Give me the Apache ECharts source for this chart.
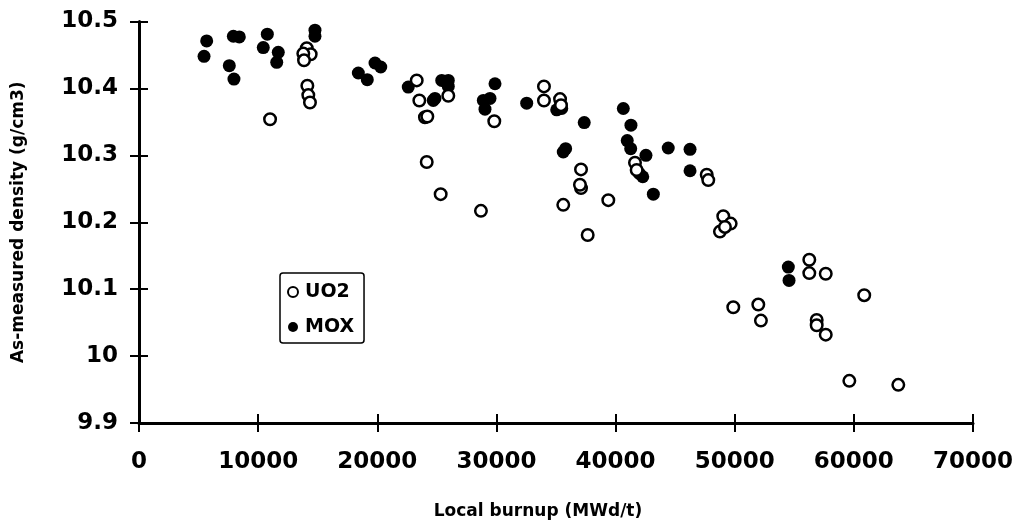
<!DOCTYPE html>
<html>
<head>
<meta charset="utf-8">
<script src="https://cdn.jsdelivr.net/npm/echarts@6/dist/echarts.min.js"></script>
<style>html,body{margin:0;padding:0;background:#fff}#c{width:1035px;height:530px}</style>
</head>
<body>
<div id="c"></div>
<script>
// Local burnup (MWd/t) and as-measured density (g/cm3)
const moxX = [5680,5460,7920,8420,7580,7970,10770,10430,11690,11560,14770,14770,18410,19160,19810,20290,22600,25410,25960,25960,24840,24700,29880,28900,29460,29040,32540,35060,35480,37370,35810,35610,40650,41290,40980,41270,42550,42280,41990,43170,44420,46250,46250,54500,54560];
const moxY = [10.471,10.448,10.478,10.477,10.434,10.414,10.481,10.461,10.454,10.439,10.487,10.478,10.423,10.413,10.438,10.432,10.402,10.412,10.412,10.403,10.385,10.382,10.407,10.382,10.385,10.369,10.378,10.368,10.370,10.349,10.310,10.305,10.370,10.345,10.322,10.310,10.300,10.268,10.273,10.242,10.311,10.309,10.277,10.133,10.113];
const uo2X = [11000,14080,14410,13790,13850,14130,14210,14350,23310,23530,24000,24200,24150,25320,25960,29820,28700,33990,33990,35340,35420,37100,37100,37010,35610,39390,37660,41630,41770,47650,47780,49040,49660,48760,49180,49880,51980,52200,56260,56260,57640,60870,56880,56880,57640,59620,63730];
const uo2Y = [10.354,10.460,10.451,10.452,10.442,10.404,10.390,10.379,10.412,10.382,10.357,10.358,10.290,10.242,10.389,10.351,10.217,10.403,10.382,10.384,10.375,10.279,10.251,10.256,10.226,10.233,10.181,10.289,10.278,10.271,10.263,10.209,10.198,10.186,10.193,10.073,10.077,10.053,10.144,10.124,10.123,10.091,10.054,10.046,10.032,9.963,9.957];
const seriesNames = ['UO2', 'MOX'];
const xTicks = [0, 70000, 10000];   // min, max, interval
const yTicks = [9.9, 10.5, 0.1];    // min, max, interval
const xTitle = 'Local burnup (MWd/t)';
const yTitle = 'As-measured density (g/cm3)';

const FONT = 'DejaVu Sans';
const gridBox = {left: 139, right: 62, top: 21.5, bottom: 107, containLabel: false};

const zip = (a, b) => a.map((v, i) => [v, b[i]]);
const tickStyle = {color: '#000', width: 2};

const chart = echarts.init(document.getElementById('c'), null, {renderer: 'canvas'});
const baseX = {type: 'value', min: xTicks[0], max: xTicks[1], interval: xTicks[2], splitLine: {show: false}};
const baseY = {type: 'value', min: yTicks[0], max: yTicks[1], interval: yTicks[2], splitLine: {show: false}};
chart.setOption({
  animation: false,
  backgroundColor: '#fff',
  grid: [Object.assign({}, gridBox), Object.assign({}, gridBox)],
  legend: {
    orient: 'vertical', left: 280, top: 273,
    data: seriesNames,
    itemWidth: 14, itemHeight: 10, itemGap: 13,
    padding: [8, 10, 5, 7],
    borderColor: '#000', borderWidth: 1.5, borderRadius: 3,
    selectedMode: false,
    textStyle: {fontFamily: FONT, fontWeight: 'bold', fontSize: 19, color: '#000', lineHeight: 22}
  },
  xAxis: [
    Object.assign({}, baseX, {
      gridIndex: 0, position: 'bottom',
      axisLine: {show: true, lineStyle: {color: '#000', width: 3}},
      axisTick: {show: true, inside: false, length: 9, lineStyle: tickStyle},
      axisLabel: {show: true, margin: 28, color: '#000', fontFamily: FONT, fontWeight: 'bold', fontSize: 23,
                  formatter: v => String(v)},
      name: xTitle, nameLocation: 'middle', nameGap: 80,
      nameTextStyle: {fontFamily: FONT, fontWeight: 'bold', fontSize: 17, color: '#000', padding: [0, 36, 0, 0]}
    }),
    Object.assign({}, baseX, {
      gridIndex: 1, position: 'bottom',
      axisLine: {show: false},
      axisTick: {show: true, inside: true, length: 9, lineStyle: tickStyle},
      axisLabel: {show: false}
    })
  ],
  yAxis: [
    Object.assign({}, baseY, {
      gridIndex: 0, position: 'left',
      axisLine: {show: true, lineStyle: {color: '#000', width: 3}},
      axisTick: {show: true, inside: false, length: 9, lineStyle: tickStyle},
      axisLabel: {show: true, margin: 21, color: '#000', fontFamily: FONT, fontWeight: 'bold', fontSize: 23,
                  formatter: v => String(+v.toFixed(1))},
      name: yTitle, nameLocation: 'middle', nameGap: 112,
      nameTextStyle: {fontFamily: FONT, fontWeight: 'bold', fontSize: 17, color: '#000'}
    }),
    Object.assign({}, baseY, {
      gridIndex: 1, position: 'left',
      axisLine: {show: false},
      axisTick: {show: true, inside: true, length: 9, lineStyle: tickStyle},
      axisLabel: {show: false}
    })
  ],
  series: [
    {
      name: seriesNames[1], type: 'scatter', xAxisIndex: 0, yAxisIndex: 0,
      data: zip(moxX, moxY), symbol: 'circle', symbolSize: 13,
      itemStyle: {color: '#000', opacity: 1},
      emphasis: {disabled: true}
    },
    {
      name: seriesNames[0], type: 'scatter', xAxisIndex: 0, yAxisIndex: 0,
      data: zip(uo2X, uo2Y), symbol: 'circle', symbolSize: 11.5,
      itemStyle: {color: '#fff', borderColor: '#000', borderWidth: 2.5, opacity: 1},
      emphasis: {disabled: true}
    }
  ]
});
</script>
</body>
</html>
